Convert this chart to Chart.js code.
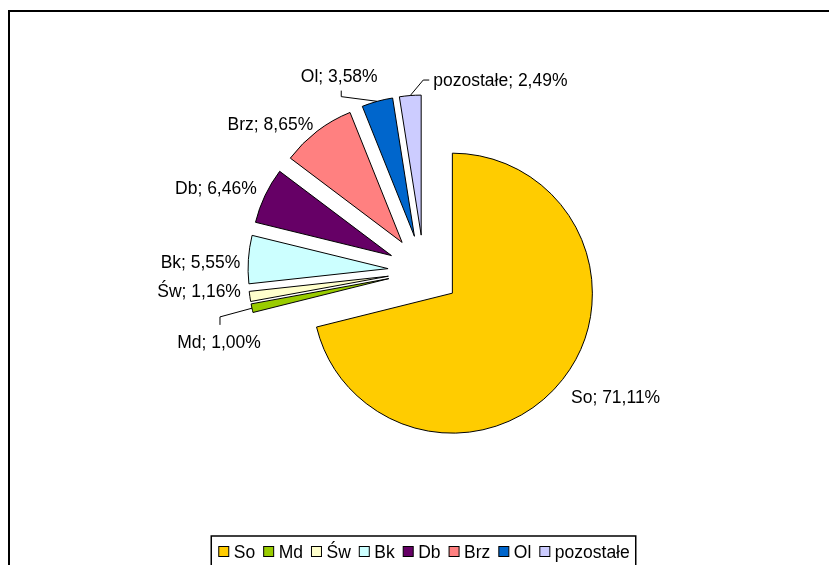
<!DOCTYPE html>
<html>
<head>
<meta charset="utf-8">
<script src="https://cdn.jsdelivr.net/npm/chart.js@4"></script>
<style>
  body { margin: 0; background: #fff; }
  canvas { display: block; }
</style>
</head>
<body>
<canvas id="pieChart" width="829" height="565"></canvas>
<script>
// Udział gatunków (%)
var categories = ["So", "Md", "Św", "Bk", "Db", "Brz", "Ol", "pozostałe"];
var shares = [71.11, 1.00, 1.16, 5.55, 6.46, 8.65, 3.58, 2.49];
var sliceColors = ["#FFCC00", "#99CC00", "#FFFFCC", "#CCFFFF", "#660066", "#FF8080", "#0066CC", "#CCCCFF"];

var FONT = '17.5px "Liberation Sans", Arial, sans-serif';
var CAP_HALF = 6.3;      // half of the cap height at this size
var EXPLODE = 36;        // distance every slice is pulled out
var LABEL_GAP = 8;

// small tweaks of the label spot (Excel moves them a bit)
var labelNudge = {
    "So": [2, 8], "Św": [-1, -8], "Bk": [0, 3], "Db": [-1, -1], "Brz": [1, 4]
};
// labels dragged away from the slice, joined with a leader line
var labelMoved = {
    "Md": { dx: -33, dy: 33, align: "center", leader: "up" },
    "Ol": { dx: -38, dy: -26, align: "center", leader: "down" },
    "pozostałe": { dx: 23, dy: -15.5, align: "left", leader: "left" }
};

function fmt(v) {
    return v.toFixed(2).replace(".", ",") + "%";
}

// pull each slice out along its middle angle
var explodePlugin = {
    id: "explode",
    afterDatasetUpdate: function(chart, args) {
        args.meta.data.forEach(function(arc) {
            var mid = (arc.startAngle + arc.endAngle) / 2;
            arc.x += Math.cos(mid) * EXPLODE;
            arc.y += Math.sin(mid) * EXPLODE;
        });
    }
};

// outer frame + data labels + legend
var decorPlugin = {
    id: "decor",
    beforeDraw: function(chart) {
        var ctx = chart.ctx;
        ctx.save();
        ctx.fillStyle = "#fff";
        ctx.fillRect(0, 0, chart.width, chart.height);
        ctx.strokeStyle = "#000";
        ctx.lineWidth = 2;
        ctx.strokeRect(9, 11, 900, 700);
        ctx.restore();
    },
    afterDraw: function(chart) {
        var ctx = chart.ctx;
        var meta = chart.getDatasetMeta(0);
        ctx.save();
        ctx.font = FONT;
        ctx.fillStyle = "#000";
        ctx.strokeStyle = "#000";
        ctx.lineWidth = 1;
        ctx.textBaseline = "alphabetic";

        meta.data.forEach(function(arc, i) {
            var name = categories[i];
            var text = name + "; " + fmt(shares[i]);
            var mid = (arc.startAngle + arc.endAngle) / 2;
            var ux = Math.cos(mid), uy = Math.sin(mid);
            var px = arc.x + ux * arc.outerRadius;
            var py = arc.y + uy * arc.outerRadius;
            var mv = labelMoved[name];

            if (mv) {
                var ax = px + mv.dx, ay = py + mv.dy;
                ctx.textAlign = mv.align;
                ctx.fillText(text, ax, ay + CAP_HALF);
                ctx.beginPath();
                if (mv.leader === "up") {
                    ctx.moveTo(ax + 1, ay - CAP_HALF - 10);
                    ctx.lineTo(ax + 1, ay - CAP_HALF - 18);
                } else if (mv.leader === "down") {
                    ctx.moveTo(ax + 2, ay + CAP_HALF + 9);
                    ctx.lineTo(ax + 2, ay + CAP_HALF + 15);
                } else {
                    ctx.moveTo(ax - 4, ay);
                    ctx.lineTo(ax - 10, ay);
                }
                ctx.lineTo(px, py);
                ctx.stroke();
                return;
            }

            var nx = 0, ny = 0;
            if (labelNudge[name]) { nx = labelNudge[name][0]; ny = labelNudge[name][1]; }
            var lx = px + ux * LABEL_GAP + nx;
            var ly = py + uy * LABEL_GAP + uy * 7 + ny;
            ctx.textAlign = ux < 0 ? "right" : "left";
            ctx.fillText(text, lx, ly + CAP_HALF);
        });

        // legend along the bottom, in a box
        var cx = (chart.chartArea.left + chart.chartArea.right) / 2;
        var capY = 551.5;
        var box = 10, gapBox = 5.5, gapItem = 8;
        var widths = categories.map(function(c) { return ctx.measureText(c).width; });
        var total = 0;
        widths.forEach(function(w, i) { total += box + gapBox + w + (i > 0 ? gapItem : 0); });
        var x = cx - total / 2;
        ctx.lineWidth = 1.5;
        ctx.strokeRect(x - 7, capY - 15.5, total + 13, 60);
        ctx.lineWidth = 1;
        ctx.textAlign = "left";
        categories.forEach(function(c, i) {
            ctx.fillStyle = sliceColors[i];
            ctx.fillRect(x + 0.5, capY - 5, box, box);
            ctx.strokeRect(x + 0.5, capY - 5, box, box);
            ctx.fillStyle = "#000";
            ctx.fillText(c, x + box + gapBox, capY + CAP_HALF);
            x += box + gapBox + widths[i] + gapItem;
        });
        ctx.restore();
    }
};

var ctx = document.getElementById("pieChart").getContext("2d");
var pieChart = new Chart(ctx, {
    type: "pie",
    data: {
        labels: categories,
        datasets: [{
            data: shares,
            backgroundColor: sliceColors,
            borderColor: "#000",
            borderWidth: 1,
            borderJoinStyle: "miter"
        }]
    },
    options: {
        responsive: false,
        animation: false,
        events: [],
        radius: 140,
        layout: { padding: { left: 19, right: 0, top: 0, bottom: 23 } },
        plugins: {
            legend: { display: false },
            tooltip: { enabled: false }
        }
    },
    plugins: [explodePlugin, decorPlugin]
});
</script>
</body>
</html>
